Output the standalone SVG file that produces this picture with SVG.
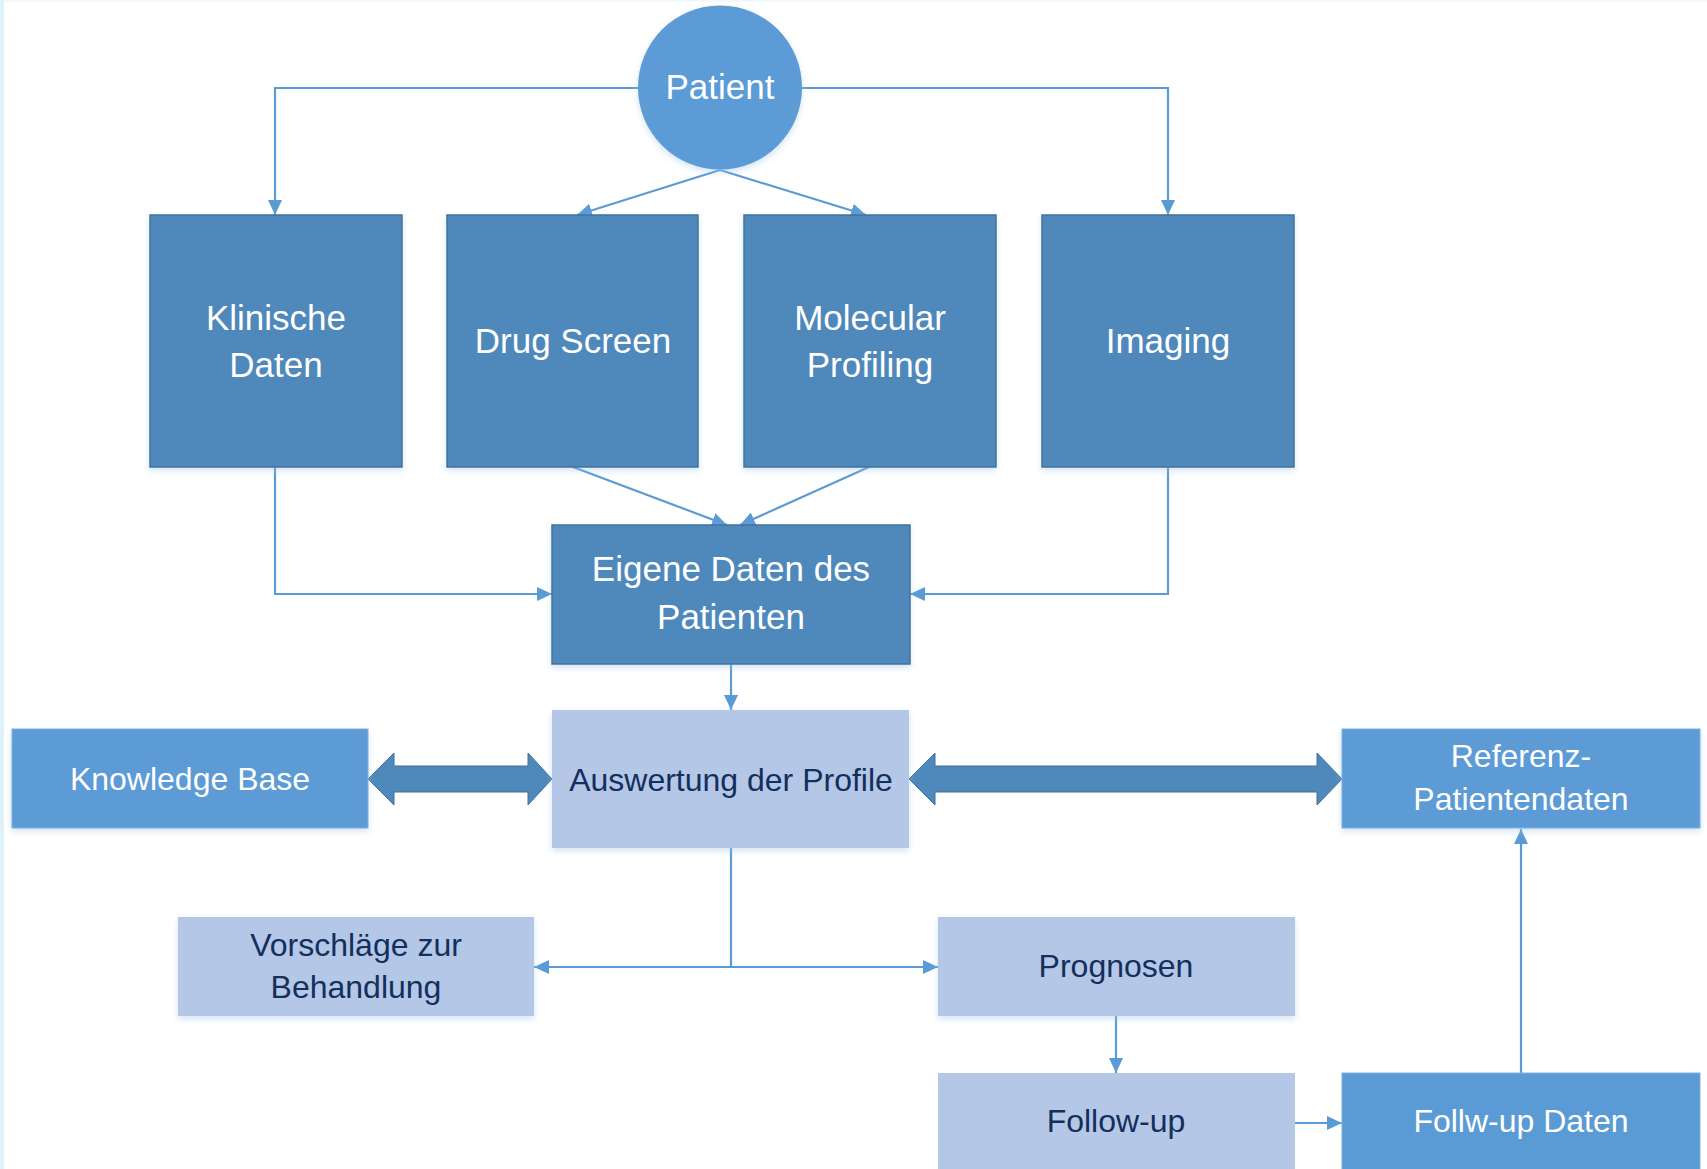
<svg xmlns="http://www.w3.org/2000/svg" width="1707" height="1169" viewBox="0 0 1707 1169">
<style>
text{font-family:"Liberation Sans",Arial,sans-serif;text-anchor:middle}
.big{font-size:35px;fill:#ffffff}
.wsm{font-size:32px;fill:#ffffff}
.dsm{font-size:32px;fill:#132f5c}
.dark{fill:#4f88bb;stroke:#41719c;stroke-width:1.5}
.mid{fill:#5b9bd5;stroke:#7fb0de;stroke-width:1}
.light{fill:#b4c7e7}
.con{fill:none;stroke:#5b9bd5;stroke-width:2.2}
.dbl{fill:#4f88bb;stroke:#41719c;stroke-width:1}
</style>
<defs>
<marker id="ah" markerUnits="userSpaceOnUse" markerWidth="16" markerHeight="14" refX="15" refY="7" orient="auto">
<path d="M0,0 L15,7 L0,14 z" fill="#5b9bd5"/>
</marker>
<filter id="sh" x="-10%" y="-10%" width="120%" height="130%">
<feDropShadow dx="0" dy="3" stdDeviation="3" flood-color="#9dc3e6" flood-opacity="0.45"/>
</filter>
</defs>
<rect x="0" y="0" width="1707" height="1169" fill="#ffffff"/>
<rect x="0" y="0" width="1707" height="2" fill="#f1f9fc"/>
<rect x="0" y="0" width="4" height="1169" fill="#dff2f8"/>

<g id="connectors">
<path class="con" d="M638,88 H275 V215" marker-end="url(#ah)"/>
<path class="con" d="M802,88 H1168 V215" marker-end="url(#ah)"/>
<path class="con" d="M720,170 L577,215" marker-end="url(#ah)"/>
<path class="con" d="M720,170 L866,215" marker-end="url(#ah)"/>
<path class="con" d="M573,467 L727,525" marker-end="url(#ah)"/>
<path class="con" d="M869,467 L740,525" marker-end="url(#ah)"/>
<path class="con" d="M275,467 V594 H552" marker-end="url(#ah)"/>
<path class="con" d="M1168,467 V594 H910" marker-end="url(#ah)"/>
<path class="con" d="M731,664 V710" marker-end="url(#ah)"/>
<path class="con" d="M731,848 V967"/>
<path class="con" d="M731,967 H534" marker-end="url(#ah)"/>
<path class="con" d="M731,967 H938" marker-end="url(#ah)"/>
<path class="con" d="M1116,1016 V1073" marker-end="url(#ah)"/>
<path class="con" d="M1295,1123 H1342" marker-end="url(#ah)"/>
<path class="con" d="M1521,1073 V829" marker-end="url(#ah)"/>
<polygon class="dbl" points="368,779 394,753 394,766 528,766 528,753 552,779 528,805 528,792 394,792 394,805"/>
<polygon class="dbl" points="909,779 935,753 935,766 1317,766 1317,753 1342,779 1317,805 1317,792 935,792 935,805"/>
</g>

<g id="patient">
<circle cx="720" cy="87.5" r="82" fill="#5b9bd5" filter="url(#sh)"/>
<text class="big" x="720" y="99">Patient</text>
</g>
<g id="klinische">
<rect class="dark" x="150" y="215" width="252" height="252" filter="url(#sh)"/>
<text class="big" x="276" y="330">Klinische</text>
<text class="big" x="276" y="377">Daten</text>
</g>
<g id="drugscreen">
<rect class="dark" x="447" y="215" width="251" height="252" filter="url(#sh)"/>
<text class="big" x="573" y="353">Drug Screen</text>
</g>
<g id="molecular">
<rect class="dark" x="744" y="215" width="252" height="252" filter="url(#sh)"/>
<text class="big" x="870" y="330">Molecular</text>
<text class="big" x="870" y="377">Profiling</text>
</g>
<g id="imaging">
<rect class="dark" x="1042" y="215" width="252" height="252" filter="url(#sh)"/>
<text class="big" x="1168" y="353">Imaging</text>
</g>
<g id="eigene">
<rect class="dark" x="552" y="525" width="358" height="139" filter="url(#sh)"/>
<text class="big" x="731" y="581">Eigene Daten des</text>
<text class="big" x="731" y="629">Patienten</text>
</g>
<g id="auswertung">
<rect class="light" x="552" y="710" width="357" height="138" filter="url(#sh)"/>
<text class="dsm" x="731" y="791">Auswertung der Profile</text>
</g>
<g id="knowledge">
<rect class="mid" x="12" y="729" width="356" height="99" filter="url(#sh)"/>
<text class="wsm" x="190" y="790">Knowledge Base</text>
</g>
<g id="referenz">
<rect class="mid" x="1342" y="729" width="358" height="99" filter="url(#sh)"/>
<text class="wsm" x="1521" y="767">Referenz-</text>
<text class="wsm" x="1521" y="810">Patientendaten</text>
</g>
<g id="vorschlaege">
<rect class="light" x="178" y="917" width="356" height="99" filter="url(#sh)"/>
<text class="dsm" x="356" y="956">Vorschläge zur</text>
<text class="dsm" x="356" y="998">Behandlung</text>
</g>
<g id="prognosen">
<rect class="light" x="938" y="917" width="357" height="99" filter="url(#sh)"/>
<text class="dsm" x="1116" y="977">Prognosen</text>
</g>
<g id="followup">
<rect class="light" x="938" y="1073" width="357" height="110"/>
<text class="dsm" x="1116" y="1132">Follow-up</text>
</g>
<g id="followupdaten">
<rect class="mid" x="1342" y="1073" width="358" height="110"/>
<text class="wsm" x="1521" y="1132">Follw-up Daten</text>
</g>
</svg>
